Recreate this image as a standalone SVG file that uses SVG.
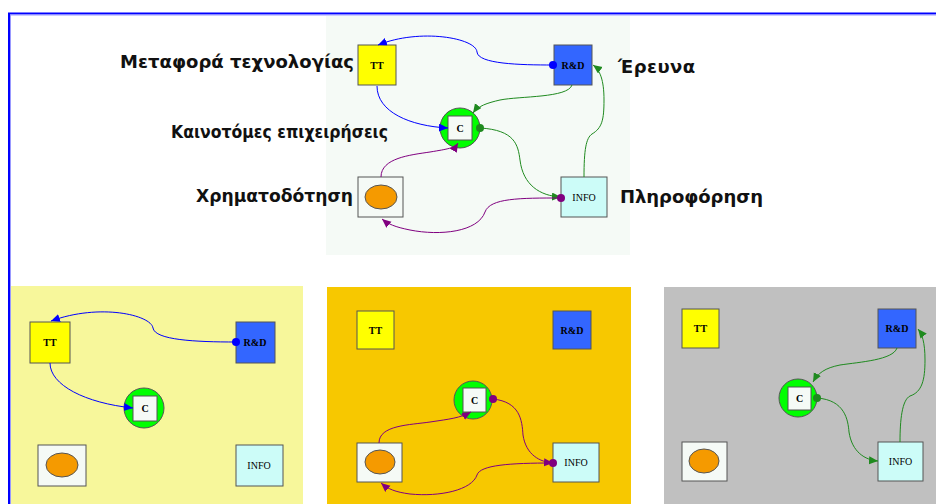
<svg xmlns="http://www.w3.org/2000/svg" width="936" height="504" viewBox="0 0 936 504">
<style>
.lbl{font-family:"DejaVu Sans",sans-serif;font-weight:bold;font-size:18px;fill:#111}
.nt{font-family:"Liberation Serif",serif;font-size:10px;fill:#000;text-anchor:middle;dominant-baseline:central}
.b{font-weight:bold}
.box{stroke:#555;stroke-width:1}
.eb{fill:none;stroke:#0000ff;stroke-width:1}
.eg{fill:none;stroke:#1f8a1f;stroke-width:1}
.ep{fill:none;stroke:#800080;stroke-width:1}
</style>
<defs>
<marker id="ab" markerUnits="userSpaceOnUse" markerWidth="10" markerHeight="10" refX="9" refY="4" orient="auto"><path d="M0,0 L9,4 L0,8 z" fill="#0000ff"/></marker>
<marker id="ag" markerUnits="userSpaceOnUse" markerWidth="10" markerHeight="10" refX="9" refY="4" orient="auto"><path d="M0,0 L9,4 L0,8 z" fill="#1f8a1f"/></marker>
<marker id="ap" markerUnits="userSpaceOnUse" markerWidth="10" markerHeight="10" refX="9" refY="4" orient="auto"><path d="M0,0 L9,4 L0,8 z" fill="#800080"/></marker>
</defs>
<rect width="936" height="504" fill="#ffffff"/>
<path d="M9,504 V13.5 H936" fill="none" stroke="#0000ff" stroke-width="2"/>
<path d="M10.5,504 V15 H936" fill="none" stroke="#9999ff" stroke-width="1"/>

<!-- panels -->
<rect x="326" y="16" width="304" height="239" fill="#f5faf6"/>
<rect x="11" y="286" width="292" height="218" fill="#f7f79b"/>
<rect x="327" y="287" width="304" height="217" fill="#f7c800"/>
<rect x="664" y="287" width="272" height="217" fill="#c0c0c0"/>

<!-- labels -->
<g id="labels">
<text class="lbl" x="120" y="68" textLength="234">Μεταφορά τεχνολογίας</text>
<text class="lbl" x="618" y="73" textLength="77">Έρευνα</text>
<text class="lbl" x="171" y="138" textLength="217" lengthAdjust="spacingAndGlyphs">Καινοτόμες επιχειρήσεις</text>
<text class="lbl" x="196" y="202" textLength="157" lengthAdjust="spacingAndGlyphs">Χρηματοδότηση</text>
<text class="lbl" x="620" y="203" textLength="143">Πληροφόρηση</text>
</g>

<!-- top diagram nodes -->
<g id="top-TT"><rect class="box" x="358" y="45" width="38" height="40" fill="#ffff00"/><text class="nt b" x="377" y="65">TT</text></g>
<g id="top-RD"><rect class="box" x="554" y="45" width="38" height="40" fill="#3366ff"/><text class="nt b" x="573" y="65">R&amp;D</text></g>
<g id="top-C"><circle class="box" cx="460" cy="128" r="20" fill="#00ff00"/><rect class="box" x="448" y="116" width="24" height="24" fill="#f5faf6"/><text class="nt b" x="460" y="128">C</text></g>
<g id="top-FIN"><rect class="box" x="358" y="177" width="45" height="40" fill="#f5faf6"/><ellipse class="box" cx="381" cy="197" rx="16" ry="12" fill="#f59a00"/></g>
<g id="top-INFO"><rect class="box" x="561" y="177" width="46" height="40" fill="#ccfcf8"/><text class="nt" x="584" y="197">INFO</text></g>

<!-- panel 1 nodes -->
<g id="p1-TT"><rect class="box" x="30" y="322" width="40" height="41" fill="#ffff00"/><text class="nt b" x="50" y="342">TT</text></g>
<g id="p1-RD"><rect class="box" x="236" y="322" width="39" height="41" fill="#3366ff"/><text class="nt b" x="255" y="342">R&amp;D</text></g>
<g id="p1-C"><circle class="box" cx="144" cy="408" r="20" fill="#00ff00"/><rect class="box" x="133" y="396" width="24" height="25" fill="#f5faf6"/><text class="nt b" x="145" y="408">C</text></g>
<g id="p1-FIN"><rect class="box" x="38" y="445" width="48" height="41" fill="#f5faf6"/><ellipse class="box" cx="62" cy="465" rx="16" ry="12" fill="#f59a00"/></g>
<g id="p1-INFO"><rect class="box" x="236" y="445" width="47" height="41" fill="#ccfcf8"/><text class="nt" x="259" y="465">INFO</text></g>

<!-- panel 2 nodes -->
<g id="p2-TT"><rect class="box" x="357" y="311" width="37" height="38" fill="#ffff00"/><text class="nt b" x="375.5" y="330">TT</text></g>
<g id="p2-RD"><rect class="box" x="553" y="311" width="38" height="38" fill="#3366ff"/><text class="nt b" x="572" y="330">R&amp;D</text></g>
<g id="p2-C"><circle class="box" cx="473" cy="400" r="19" fill="#00ff00"/><rect class="box" x="463" y="388" width="23" height="24" fill="#f5faf6"/><text class="nt b" x="474.5" y="400">C</text></g>
<g id="p2-FIN"><rect class="box" x="357" y="443" width="45" height="39" fill="#f5faf6"/><ellipse class="box" cx="380" cy="462" rx="15" ry="12" fill="#f59a00"/></g>
<g id="p2-INFO"><rect class="box" x="553" y="443" width="46" height="39" fill="#ccfcf8"/><text class="nt" x="576" y="462.5">INFO</text></g>

<!-- panel 3 nodes -->
<g id="p3-TT"><rect class="box" x="682" y="309" width="37" height="39" fill="#ffff00"/><text class="nt b" x="700.5" y="328.5">TT</text></g>
<g id="p3-RD"><rect class="box" x="878" y="309" width="38" height="39" fill="#3366ff"/><text class="nt b" x="897" y="328.5">R&amp;D</text></g>
<g id="p3-C"><circle class="box" cx="798" cy="398" r="19" fill="#00ff00"/><rect class="box" x="788" y="387" width="23" height="23" fill="#f5faf6"/><text class="nt b" x="799.5" y="398.5">C</text></g>
<g id="p3-FIN"><rect class="box" x="682" y="442" width="45" height="39" fill="#f5faf6"/><ellipse class="box" cx="704" cy="461" rx="15" ry="12" fill="#f59a00"/></g>
<g id="p3-INFO"><rect class="box" x="878" y="442" width="45" height="39" fill="#ccfcf8"/><text class="nt" x="900.5" y="461.5">INFO</text></g>

<!-- connectors -->
<g id="connectors">
<path class="eb" d="M553,65 C520,65 478,64 477,52 C476,38 420,28 378,45" marker-end="url(#ab)"/>
<circle cx="553" cy="65" r="4" fill="#0000ff"/>
<path class="eb" d="M377,86 C377,112 410,126 448,128" marker-end="url(#ab)"/>
<path class="eg" d="M572,85 C568,98 520,96 500,100 C487,103 478,106 473,113" marker-end="url(#ag)"/>
<path class="eg" d="M480,128 C515,130 518,145 520,160 C523,185 540,196 561,197" marker-end="url(#ag)"/>
<path class="eg" d="M584,177 C584,150 586,138 592,134 C602,128 604,120 604,100 C604,80 600,70 593,65" marker-end="url(#ag)"/>
<path class="ep" d="M381,177 C381,158 410,155 430,152 C448,149 455,148 458,143" marker-end="url(#ap)"/>
<path class="ep" d="M561,198 C520,198 490,198 485,212 C478,232 440,236 410,230 C395,227 388,224 382,219" marker-end="url(#ap)"/>
<circle cx="480" cy="128" r="4" fill="#1f8a1f"/>
<circle cx="561" cy="198" r="4" fill="#800080"/>

<path class="eb" d="M236,342 C195,342 155,340 153,328 C151,315 100,303 51,321" marker-end="url(#ab)"/>
<circle cx="236" cy="342" r="4" fill="#0000ff"/>
<path class="eb" d="M50,363 C50,385 85,403 133,408" marker-end="url(#ab)"/>

<path class="ep" d="M379,443 C379,425 410,425 430,422 C450,419 460,418 471,412" marker-end="url(#ap)"/>
<path class="ep" d="M493,399 C520,402 522,420 523,435 C526,455 540,462 553,463" marker-end="url(#ap)"/>
<path class="ep" d="M553,463 C510,463 480,465 477,475 C472,490 440,497 410,494 C395,492 388,489 381,483" marker-end="url(#ap)"/>
<circle cx="493" cy="399" r="4" fill="#800080"/>
<circle cx="553" cy="463" r="4" fill="#800080"/>

<path class="eg" d="M897,348 C893,360 860,362 840,365 C825,368 818,373 813,382" marker-end="url(#ag)"/>
<path class="eg" d="M817,398 C845,400 848,420 849,432 C852,452 865,460 878,461" marker-end="url(#ag)"/>
<path class="eg" d="M900,442 C900,420 902,400 910,396 C922,392 925,380 925,360 C925,342 922,334 918,329" marker-end="url(#ag)"/>
<circle cx="817" cy="398" r="4" fill="#1f8a1f"/>
</g>
</svg>
